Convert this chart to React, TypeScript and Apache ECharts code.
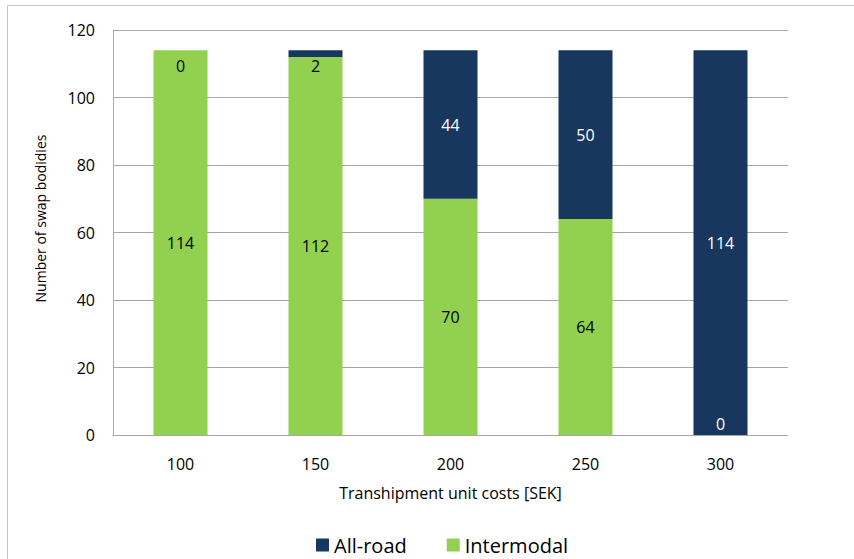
import React, { useEffect, useRef } from "react";
import * as echarts from "echarts";

const costs = ["100", "150", "200", "250", "300"];
const intermodal = [114, 112, 70, 64, 0];
const allRoad = [0, 2, 44, 50, 114];

const GREEN = "#92d050";
const NAVY = "#17375e";
const FONT = "'Open Sans', 'Noto Sans', sans-serif";

export default function App() {
  const ref = useRef<HTMLDivElement>(null);

  useEffect(() => {
    if (!ref.current) return;
    const chart = echarts.init(ref.current, undefined, { renderer: "svg" });

    const intermodalData = intermodal.map((v) =>
      v === 0
        ? { value: v, label: { position: "insideBottom", distance: 3, color: "#ffffff" } }
        : v
    );
    const allRoadData = allRoad.map((v) =>
      v <= 2
        ? { value: v, label: { position: "insideTop", distance: 8, color: "#000000" } }
        : v
    );

    chart.setOption({
      animation: false,
      backgroundColor: "#ffffff",
      textStyle: { fontFamily: FONT },
      graphic: [
        {
          type: "rect",
          shape: { x: 7.5, y: 5.5, width: 900, height: 600 },
          style: { fill: "none", stroke: "#c4c4c4", lineWidth: 1 },
          silent: true,
        },
      ],
      grid: { left: 113, right: 66, top: 30, bottom: 124 },
      legend: {
        data: ["All-road", "Intermodal"],
        left: 311,
        top: 530,
        itemWidth: 13,
        itemHeight: 13,
        itemGap: 40,
        icon: "rect",
        textStyle: { fontSize: 20, color: "#000000", fontFamily: FONT },
      },
      xAxis: {
        type: "category",
        data: costs,
        name: "Transhipment unit costs [SEK]",
        nameLocation: "middle",
        nameGap: 50,
        nameTextStyle: { fontSize: 16, color: "#000000" },
        axisLine: { lineStyle: { color: "#a6a6a6" } },
        axisTick: { show: false },
        axisLabel: { fontSize: 16, color: "#000000", margin: 21 },
      },
      yAxis: {
        type: "value",
        min: 0,
        max: 120,
        interval: 20,
        name: "Number of swap bodidies",
        nameLocation: "middle",
        nameGap: 66,
        nameTextStyle: { fontSize: 14, color: "#000000", padding: [0, 0, 0, 28] },
        axisLine: { show: true, lineStyle: { color: "#a6a6a6" } },
        axisTick: { show: false },
        axisLabel: { fontSize: 16, color: "#000000", margin: 18 },
        splitLine: { lineStyle: { color: "#a6a6a6" } },
      },
      series: [
        {
          name: "Intermodal",
          type: "bar",
          stack: "total",
          barWidth: "40%",
          data: intermodalData,
          itemStyle: { color: GREEN },
          label: { show: true, position: "inside", fontSize: 16, color: "#000000" },
        },
        {
          name: "All-road",
          type: "bar",
          stack: "total",
          barWidth: "40%",
          data: allRoadData,
          itemStyle: { color: NAVY },
          label: { show: true, position: "inside", fontSize: 16, color: "#ffffff" },
        },
      ],
    });

    return () => chart.dispose();
  }, []);

  return (
    <div
      ref={ref}
      style={{ position: "fixed", left: 0, top: 0, width: 854, height: 559 }}
    />
  );
}
